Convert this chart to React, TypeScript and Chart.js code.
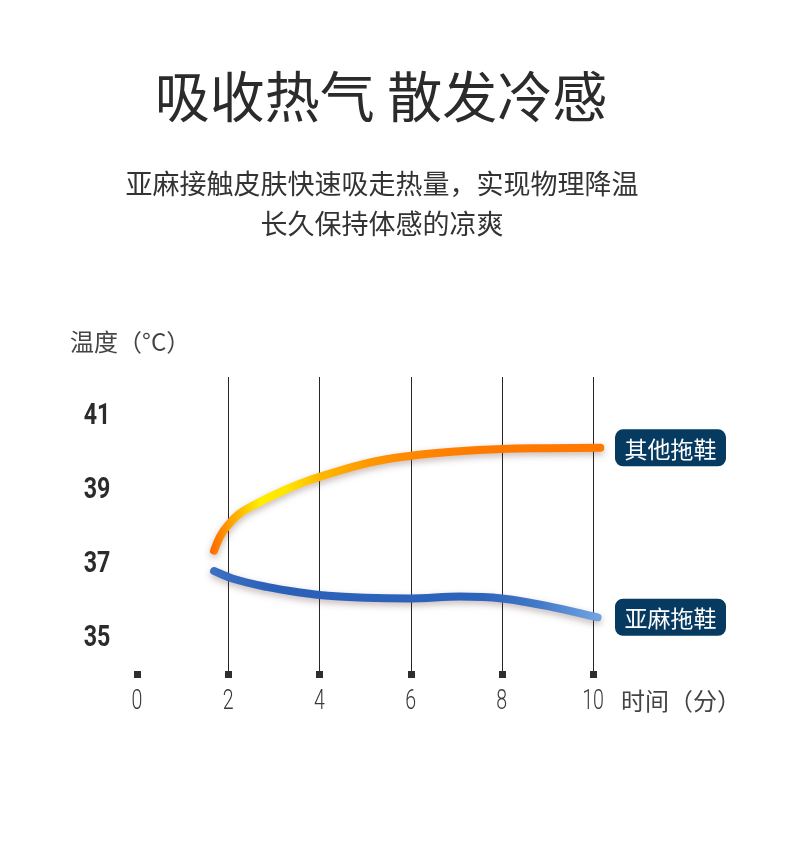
import React, { useEffect, useRef } from "react";
import { Chart, registerables } from "chart.js";

Chart.register(...registerables);

const TITLE = "吸收热气 散发冷感";
const SUBTITLE_LINES = ["亚麻接触皮肤快速吸走热量，实现物理降温", "长久保持体感的凉爽"];
const Y_AXIS_TITLE = "温度（°C）";
const X_AXIS_TITLE = "时间（分）";

const X_TICKS = [0, 2, 4, 6, 8, 10];
const Y_TICKS = [35, 37, 39, 41];

const SERIES_NAMES = ["其他拖鞋", "亚麻拖鞋"];

const OTHER_X = [1.69, 1.82, 1.97, 2.26, 2.7, 3.21, 3.79, 5.03, 5.98, 6.98, 8.0, 9.0, 10.16];
const OTHER_Y = [37.36, 37.74, 38.01, 38.37, 38.68, 38.98, 39.27, 39.72, 39.92, 40.04, 40.11, 40.13, 40.14];

const LINEN_X = [1.69, 2.11, 2.84, 3.57, 4.2, 5.0, 5.99, 7.08, 8.0, 9.06, 10.1];
const LINEN_Y = [36.81, 36.6, 36.38, 36.23, 36.14, 36.09, 36.07, 36.12, 36.07, 35.85, 35.56];

const ORANGE_STOPS: [number, string][] = [
  [1.65, "#ff6c00"],
  [2.1, "#ffa800"],
  [2.7, "#ffee00"],
  [3.3, "#ffe400"],
  [4.0, "#ffb800"],
  [5.0, "#ff9a00"],
  [6.0, "#ff8800"],
  [7.5, "#ff7a00"],
  [10.2, "#ff7800"],
];
const BLUE_STOPS: [number, string][] = [
  [1.65, "#3b70c3"],
  [3.0, "#2a60b8"],
  [7.5, "#2c63bb"],
  [8.8, "#4279c8"],
  [10.1, "#70a2e0"],
];

function makeGradient(chart: any, stops: [number, string][]) {
  const xs = chart.scales.x;
  if (!xs || !chart.chartArea) return stops[0][1];
  const x0 = xs.getPixelForValue(stops[0][0]);
  const x1 = xs.getPixelForValue(stops[stops.length - 1][0]);
  const g = chart.ctx.createLinearGradient(x0, 0, x1, 0);
  stops.forEach(([v, c]) => {
    const p = (xs.getPixelForValue(v) - x0) / (x1 - x0);
    g.addColorStop(Math.min(1, Math.max(0, p)), c);
  });
  return g;
}

const CJK = '"Noto Sans CJK SC", "Noto Sans", sans-serif';

const decorPlugin = {
  id: "decor",
  beforeDatasetsDraw(chart: any) {
    const { ctx, chartArea, scales } = chart;
    const xs = scales.x;
    ctx.save();
    ctx.strokeStyle = "#262626";
    ctx.lineWidth = 1;
    X_TICKS.forEach((v) => {
      if (v === 0) return;
      const px = Math.round(xs.getPixelForValue(v)) + 0.5;
      ctx.beginPath();
      ctx.moveTo(px, chartArea.top - 2);
      ctx.lineTo(px, chartArea.bottom - 1);
      ctx.stroke();
    });
    ctx.fillStyle = "#2e2e2e";
    X_TICKS.forEach((v) => {
      const px = Math.round(xs.getPixelForValue(v));
      ctx.fillRect(px - 3, chartArea.bottom - 4, 7, 7);
    });
    ctx.restore();
  },
  beforeDatasetDraw(chart: any) {
    const ctx = chart.ctx;
    ctx.save();
    ctx.shadowColor = "rgba(90,50,50,0.35)";
    ctx.shadowBlur = 7;
    ctx.shadowOffsetX = 0;
    ctx.shadowOffsetY = 3;
  },
  afterDatasetDraw(chart: any) {
    chart.ctx.restore();
  },
  afterDraw(chart: any) {
    const { ctx, chartArea, scales } = chart;
    const xs = scales.x;
    const ys = scales.y;
    ctx.save();
    ctx.textAlign = "center";
    ctx.textBaseline = "middle";

    ctx.fillStyle = "#2b2b2b";
    ctx.font = `400 55px ${CJK}`;
    ctx.fillText(TITLE, 381, 96);

    ctx.fillStyle = "#333333";
    ctx.font = `400 27px ${CJK}`;
    ctx.fillText(SUBTITLE_LINES[0], 382, 184);
    ctx.fillText(SUBTITLE_LINES[1], 382, 224);

    ctx.fillStyle = "#444444";
    ctx.font = `400 24px ${CJK}`;
    ctx.textAlign = "left";
    ctx.fillText(Y_AXIS_TITLE, 70, 342);
    ctx.fillText(X_AXIS_TITLE, 621, 701);

    ctx.textAlign = "center";
    ctx.fillStyle = "#2b2b2b";
    ctx.font = `700 29px Roboto, "Liberation Sans", sans-serif`;
    Y_TICKS.forEach((v) => {
      const py = ys.getPixelForValue(v);
      ctx.save();
      ctx.translate(chartArea.left - 40, py + 1);
      ctx.scale(0.8, 1);
      ctx.fillText(String(v), 0, 0);
      ctx.restore();
    });

    ctx.fillStyle = "#3a3a3a";
    ctx.font = `300 28px Roboto, "Liberation Sans", sans-serif`;
    X_TICKS.forEach((v) => {
      const px = xs.getPixelForValue(v);
      ctx.save();
      ctx.translate(px, 702);
      ctx.scale(0.7, 1);
      ctx.fillText(String(v), 0, 0);
      ctx.restore();
    });

    chart.data.datasets.forEach((ds: any, i: number) => {
      const last = ds.data[ds.data.length - 1];
      const cy = ys.getPixelForValue(last.y);
      const bx = chartArea.right + 22;
      const bw = 111;
      const bh = 37;
      ctx.fillStyle = "#073a60";
      ctx.beginPath();
      (ctx as any).roundRect(bx, cy - bh / 2, bw, bh, 8);
      ctx.fill();
      ctx.fillStyle = "#ffffff";
      ctx.font = `400 23px ${CJK}`;
      ctx.textAlign = "center";
      ctx.fillText(SERIES_NAMES[i], bx + bw / 2, cy + 1);
    });
    ctx.restore();
  },
};

export default function App() {
  const ref = useRef<HTMLCanvasElement | null>(null);
  useEffect(() => {
    if (!ref.current) return;
    const chart = new Chart(ref.current, {
      type: "line",
      data: {
        datasets: [
          {
            label: SERIES_NAMES[0],
            data: OTHER_X.map((x, i) => ({ x, y: OTHER_Y[i] })),
            borderColor: (c: any) => makeGradient(c.chart, ORANGE_STOPS),
            borderWidth: 8,
            borderCapStyle: "round",
            borderJoinStyle: "round",
            tension: 0.4,
            pointRadius: 0,
            fill: false,
            clip: false as any,
          },
          {
            label: SERIES_NAMES[1],
            data: LINEN_X.map((x, i) => ({ x, y: LINEN_Y[i] })),
            borderColor: (c: any) => makeGradient(c.chart, BLUE_STOPS),
            borderWidth: 8,
            borderCapStyle: "round",
            borderJoinStyle: "round",
            cubicInterpolationMode: "monotone",
            pointRadius: 0,
            fill: false,
            clip: false as any,
          },
        ],
      },
      options: {
        responsive: false,
        animation: false,
        layout: { padding: { left: 137, right: 197, top: 379, bottom: 177 } },
        plugins: { legend: { display: false }, tooltip: { enabled: false } },
        scales: {
          x: { type: "linear", min: 0, max: 10, display: false },
          y: { type: "linear", min: 34, max: 42, display: false },
        },
      },
      plugins: [decorPlugin],
    });
    return () => chart.destroy();
  }, []);
  return (
    <div style={{ position: "absolute", left: 0, top: 0, width: 790, height: 852, background: "#ffffff" }}>
      <canvas ref={ref} width={790} height={852} />
    </div>
  );
}
